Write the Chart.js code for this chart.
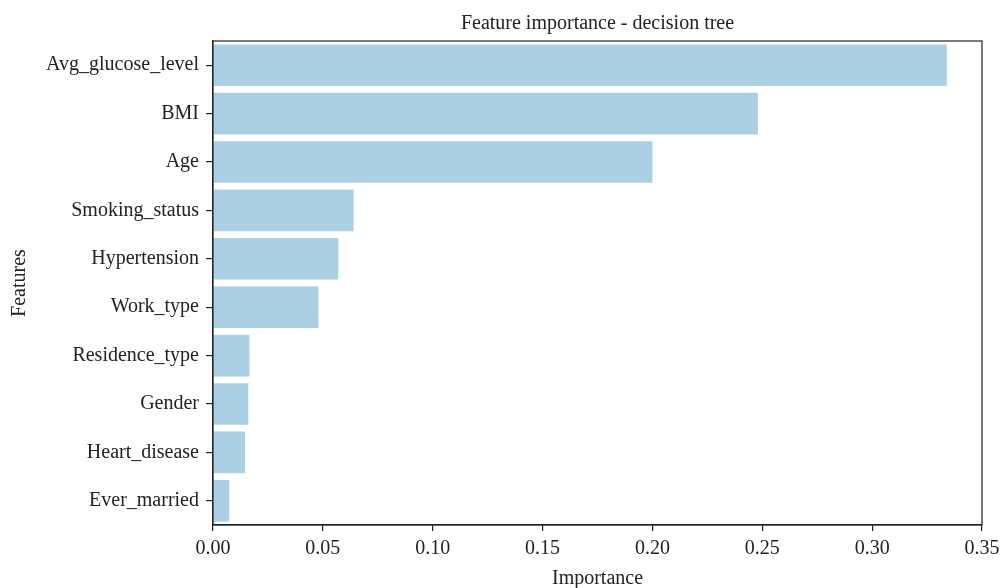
<!DOCTYPE html>
<html>
<head>
<meta charset="utf-8">
<script src="https://cdn.jsdelivr.net/npm/chart.js@4/dist/chart.umd.min.js"></script>
<style>
  html, body { margin: 0; padding: 0; background: #fff; }
  #wrap { width: 1000px; height: 588px; }
</style>
</head>
<body>
<div id="wrap"><canvas id="chart" width="1000" height="588"></canvas></div>
<script>
// feature names, top to bottom
const features = ['Avg_glucose_level', 'BMI', 'Age', 'Smoking_status', 'Hypertension',
                  'Work_type', 'Residence_type', 'Gender', 'Heart_disease', 'Ever_married'];
// importance values
const importance = [0.334, 0.248, 0.200, 0.064, 0.057, 0.048, 0.0166, 0.0161, 0.0146, 0.0074];
const xTicks = [0, 0.05, 0.10, 0.15, 0.20, 0.25, 0.30, 0.35];

const serif = 'Liberation Serif, Times New Roman, serif';
const ink = '#222';

// matplotlib-style box: draw top and right spines too
const frame = {
    id: 'frame',
    afterDraw(chart) {
        const { ctx, chartArea: a } = chart;
        ctx.save();
        ctx.strokeStyle = ink;
        ctx.lineWidth = 1.2;
        ctx.strokeRect(a.left, a.top, a.right - a.left, a.bottom - a.top);
        ctx.restore();
    }
};

const ctx = document.getElementById('chart').getContext('2d');
new Chart(ctx, {
    type: 'bar',
    data: {
        labels: features,
        datasets: [{
            data: importance,
            backgroundColor: '#abd0e4',
            borderWidth: 0,
            barPercentage: 0.86,
            categoryPercentage: 1.0
        }]
    },
    options: {
        indexAxis: 'y',
        responsive: false,
        animation: false,
        layout: { padding: { right: 0, bottom: 0 } },
        scales: {
            x: {
                min: 0,
                max: 0.35,
                afterBuildTicks: scale => {
                    scale.ticks = xTicks.map(v => ({ value: v }));
                },
                afterFit: scale => {
                    scale.height = 63;
                    scale.paddingRight = 18;
                },
                ticks: {
                    color: ink,
                    font: { family: serif, size: 20 },
                    padding: 6,
                    maxRotation: 0,
                    callback: v => Number(v).toFixed(2)
                },
                grid: { drawOnChartArea: false, drawTicks: true, tickLength: 6, color: ink, lineWidth: 1.2 },
                border: { display: true, color: ink, width: 1.2 },
                title: {
                    display: true,
                    text: 'Importance',
                    color: ink,
                    font: { family: serif, size: 20 },
                    padding: { top: 4, bottom: -3 }
                }
            },
            y: {
                afterFit: scale => { scale.width = 213; },
                ticks: {
                    color: ink,
                    font: { family: serif, size: 20 },
                    padding: 7
                },
                grid: { offset: false, drawOnChartArea: false, drawTicks: true, tickLength: 7, color: ink, lineWidth: 1.2 },
                border: { display: true, color: ink, width: 1.2 },
                title: {
                    display: true,
                    text: 'Features',
                    color: ink,
                    font: { family: serif, size: 20 },
                    padding: { top: 8, bottom: 0 }
                }
            }
        },
        plugins: {
            legend: { display: false },
            tooltip: { enabled: false },
            title: {
                display: true,
                fullSize: false,
                text: 'Feature importance - decision tree',
                color: ink,
                font: { family: serif, size: 20, weight: 'normal' },
                padding: { top: 12, bottom: 5 }
            }
        }
    },
    plugins: [frame]
});
</script>
</body>
</html>
